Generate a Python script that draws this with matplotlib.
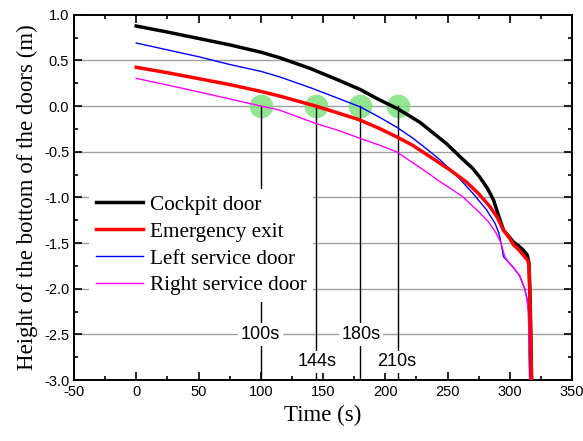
import numpy as np
import matplotlib.pyplot as plt
from matplotlib.ticker import MultipleLocator

plt.rcParams['axes.unicode_minus'] = False

# values
cockpit_t = [0, 25, 50, 75, 100, 115, 140, 163, 180, 195, 210, 228, 249, 262, 270, 276, 282, 287, 291, 295, 300, 303, 307, 311, 314, 315.5, 316.5, 317.5]
cockpit_h = [0.876, 0.81, 0.74, 0.67, 0.59, 0.53, 0.41, 0.28, 0.18, 0.07, -0.03, -0.18, -0.41, -0.58, -0.68, -0.78, -0.90, -1.03, -1.20, -1.36, -1.44, -1.49, -1.53, -1.58, -1.63, -1.72, -2.2, -3.0]

emerg_t = [0, 25, 50, 75, 100, 115, 144, 163, 179, 195, 209, 222, 236, 252, 265, 275, 284, 290, 295, 300, 303, 307, 312, 314.5, 315.5, 316.5, 317.5]
emerg_h = [0.424, 0.365, 0.30, 0.235, 0.16, 0.11, 0.0, -0.08, -0.15, -0.244, -0.336, -0.43, -0.555, -0.70, -0.83, -0.96, -1.10, -1.22, -1.36, -1.45, -1.52, -1.57, -1.65, -1.69, -1.75, -2.3, -3.0]

left_t = [0, 25, 50, 75, 100, 115, 140, 163, 180, 195, 209, 222, 236, 244, 252, 260, 270, 281, 288, 291, 293, 295, 299, 303, 308, 312, 314, 315, 315.5, 316]
left_h = [0.69, 0.615, 0.54, 0.455, 0.38, 0.32, 0.20, 0.08, -0.01, -0.12, -0.23, -0.35, -0.50, -0.59, -0.69, -0.80, -0.95, -1.13, -1.28, -1.38, -1.50, -1.65, -1.71, -1.77, -1.86, -2.0, -2.12, -2.25, -2.6, -3.0]

right_t = [0, 25, 50, 75, 100, 115, 144, 163, 179, 195, 209, 222, 236, 242, 252, 262, 276, 283, 289, 293, 296, 299, 303, 308, 312, 314, 315, 315.5, 316]
right_h = [0.303, 0.23, 0.155, 0.078, 0.0, -0.044, -0.19, -0.27, -0.35, -0.427, -0.50, -0.62, -0.75, -0.81, -0.90, -0.99, -1.17, -1.27, -1.39, -1.50, -1.65, -1.71, -1.77, -1.86, -2.0, -2.12, -2.25, -2.6, -3.0]

cross_t = [100, 144, 180, 210]
cross_lbl = ['100s', '144s', '180s', '210s']
lbl_x = [100, 145.5, 180.5, 209.5]
lbl_y = [-2.5, -2.8, -2.5, -2.8]

fig = plt.figure(figsize=(5.83, 4.41), dpi=100)
ax = fig.add_subplot(111)
fig.subplots_adjust(left=74/583, right=572/583, top=1-14.7/441, bottom=1-380/441)

for y in np.arange(-2.5, 1.0, 0.5):
    ax.axhline(y, color='#a0a0a0', lw=1.0, zorder=0)

ax.plot(cross_t, [0]*4, 'o', ms=17, color='#7fe27f', alpha=0.85, mec='none', zorder=1)
for t in cross_t:
    ax.plot([t, t], [0, -3.0], color='black', lw=1.0, zorder=2)

ax.plot(cockpit_t, cockpit_h, color='black', lw=2.5, label='Cockpit door', zorder=4)
ax.plot(emerg_t, emerg_h, color='red', lw=2.5, label='Emergency exit', zorder=4)
ax.plot(left_t, left_h, color='blue', lw=1.0, label='Left service door', zorder=3)
ax.plot(right_t, right_h, color='magenta', lw=1.0, label='Right service door', zorder=3)

for x, s, y in zip(lbl_x, cross_lbl, lbl_y):
    ax.text(x, y, s, ha='center', va='center', family='Liberation Sans', fontsize=13,
            bbox=dict(facecolor='white', edgecolor='none', pad=2), zorder=5)

leg = ax.legend(loc='upper left', bbox_to_anchor=(0.031, 0.524), frameon=True,
                prop={'family': 'Liberation Serif', 'size': 15.3}, handlelength=2.2,
                handletextpad=0.35, labelspacing=0.33, borderpad=0.3, borderaxespad=0)
leg.get_frame().set_edgecolor('none')
leg.get_frame().set_facecolor('white')
leg.get_frame().set_alpha(1)
leg.set_zorder(6)

ax.set_xlim(-50, 350)
ax.set_ylim(-3.0, 1.0)
ax.xaxis.set_major_locator(MultipleLocator(50))
ax.xaxis.set_minor_locator(MultipleLocator(25))
ax.yaxis.set_major_locator(MultipleLocator(0.5))
ax.yaxis.set_minor_locator(MultipleLocator(0.25))
ax.yaxis.set_major_formatter(plt.FormatStrFormatter('%.1f'))
ax.tick_params(which='both', direction='in', top=True, right=True, width=1.2)
ax.tick_params(which='major', length=6)
ax.tick_params(which='minor', length=3)
for lab in ax.get_xticklabels() + ax.get_yticklabels():
    lab.set_family('Liberation Sans')
    lab.set_fontsize(10.5)
for sp in ax.spines.values():
    sp.set_linewidth(1.4)

ax.set_xlabel('Time (s)', family='Liberation Serif', fontsize=16.5)
ax.set_ylabel('Height of the bottom of the doors (m)', family='Liberation Serif', fontsize=16.5)

fig.savefig('out.png', dpi=100)
